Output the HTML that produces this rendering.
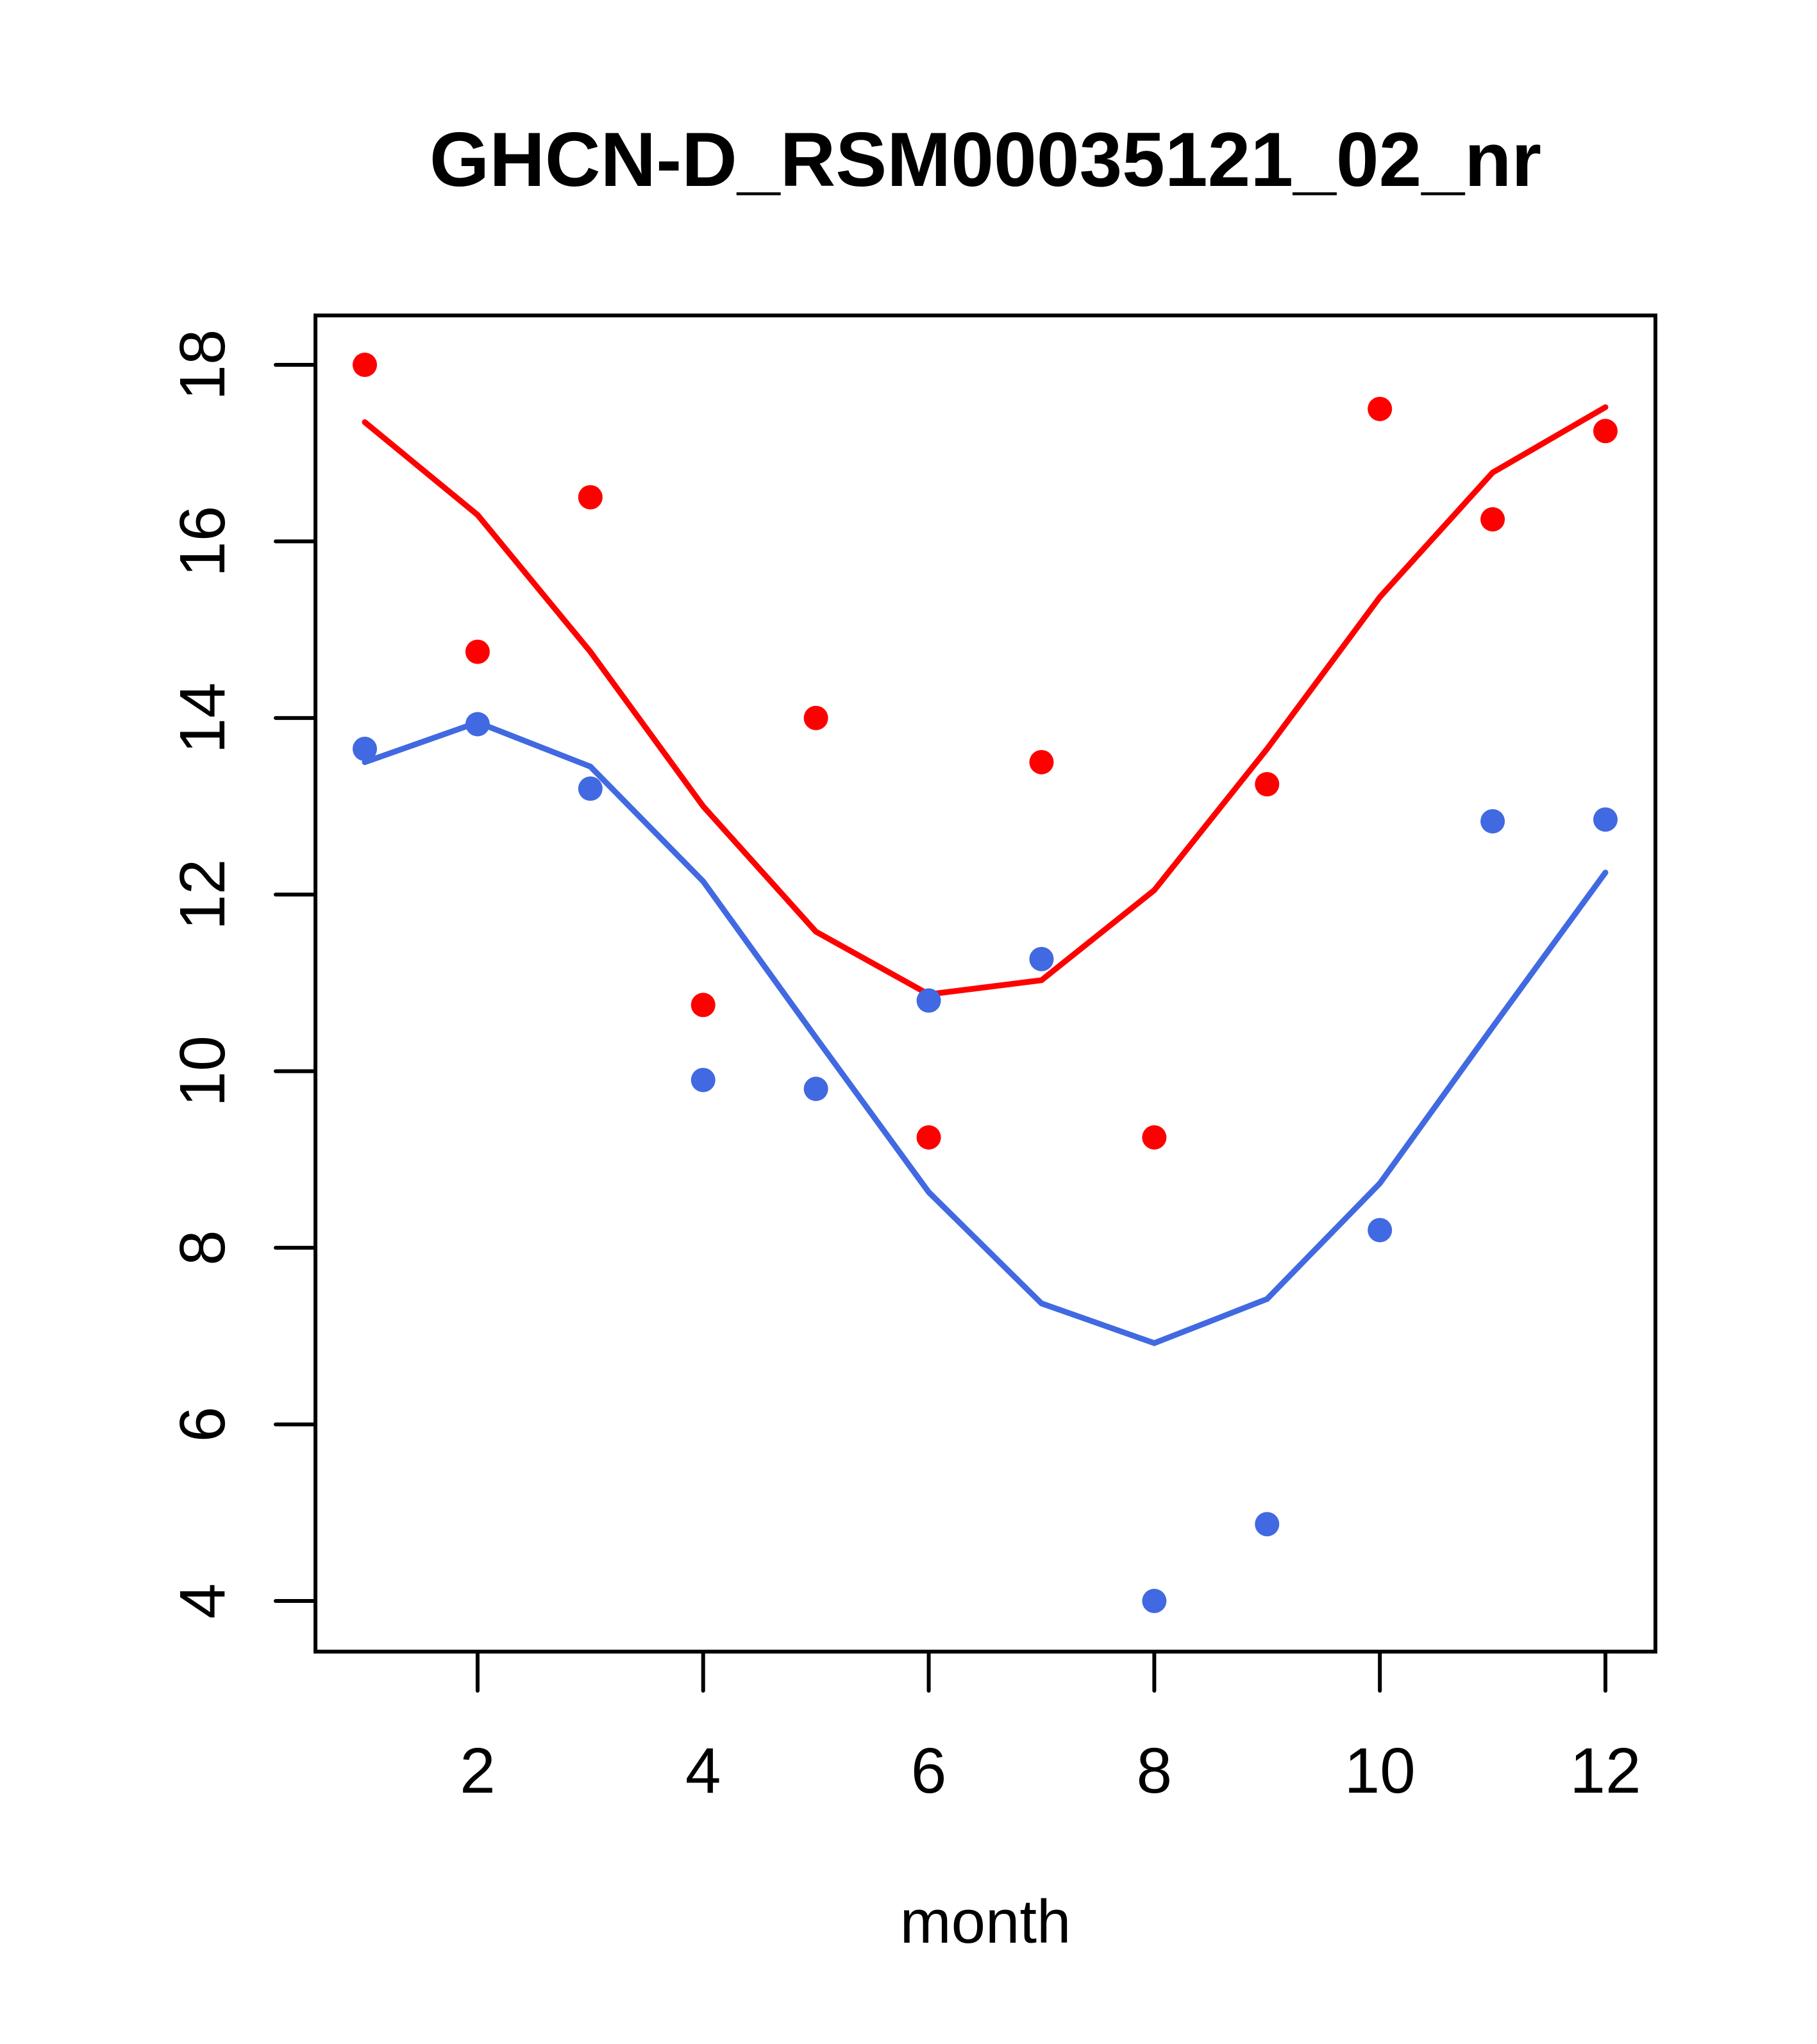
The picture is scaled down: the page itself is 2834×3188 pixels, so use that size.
<!DOCTYPE html>
<html><head><meta charset="utf-8"><style>html,body{margin:0;padding:0;background:#fff}svg{display:block}</style></head>
<body>
<svg id="chart" width="2834" height="3188" xmlns="http://www.w3.org/2000/svg" font-family="Liberation Sans, sans-serif">
<rect width="2834" height="3188" fill="#fff"/>
<text x="1537" y="290" font-size="120" font-weight="bold" text-anchor="middle">GHCN-D_RSM00035121_02_nr</text>
<rect x="492" y="492" width="2090" height="2084" fill="none" stroke="#000" stroke-width="6"/>
<g id="xaxis"></g>
<g id="yaxis"></g>
<text x="1537" y="3030" font-size="96" text-anchor="middle">month</text>
<g id="series"></g>
</svg>
<script>
const months=[1,2,3,4,5,6,7,8,9,10,11,12];
const redPoints=[18,14.75,16.5,10.75,14,9.25,13.5,9.25,13.25,17.5,16.25,17.25];
const redLine=[17.35,16.3,14.75,13.0,11.58,10.87,11.03,12.05,13.65,15.37,16.78,17.52];
const bluePoints=[13.65,13.93,13.2,9.9,9.8,10.8,11.27,4.0,4.87,8.2,12.83,12.85];
const blueLine=[13.5,13.95,13.45,12.15,10.38,8.63,7.37,6.92,7.42,8.73,10.5,12.25];
const xTicks=[2,4,6,8,10,12];
const yTicks=[4,6,8,10,12,14,16,18];
const NS="http://www.w3.org/2000/svg";
function X(m){return 569+(m-1)*(2504-569)/11;}
function Y(v){return 2497-(v-4)*(2497-569)/14;}
function mk(tag,attrs,parent){const e=document.createElementNS(NS,tag);for(const k in attrs)e.setAttribute(k,attrs[k]);parent.appendChild(e);return e;}
const xa=document.getElementById('xaxis'),ya=document.getElementById('yaxis'),sg=document.getElementById('series');
xTicks.forEach(t=>{
  const l=mk('line',{x1:X(t),x2:X(t),y1:2576,y2:2637,stroke:'#000','stroke-width':6,'stroke-linecap':'round'},xa);
  
  
  const tx=mk('text',{x:X(t),y:2796,'font-size':100,'text-anchor':'middle'},xa);
  tx.textContent=t;
  
  
});
yTicks.forEach(t=>{
  const l=mk('line',{x1:430,x2:492,y1:Y(t),y2:Y(t),stroke:'#000','stroke-width':6,'stroke-linecap':'round'},ya);
  
  
  const tx=mk('text',{x:0,y:0,'font-size':100,'text-anchor':'middle',transform:`translate(350,${Y(t)}) rotate(-90)`},ya);
  tx.textContent=t;
  
  
});
function line(vals,color,name){
  const p=mk('polyline',{points:vals.map((v,i)=>X(months[i])+','+Y(v)).join(' '),fill:'none',stroke:color,'stroke-width':9,'stroke-linecap':'round'},sg);
  
  
}
function pts(vals,color,name){
  vals.forEach((v,i)=>{
    const c=mk('circle',{cx:X(months[i]),cy:Y(v),r:19,fill:color},sg);
    
    
  });
}
line(redLine,'#ff0000','red-smooth-line');
line(blueLine,'#4169e1','blue-smooth-line');
pts(redPoints,'#ff0000','red-point');
pts(bluePoints,'#4169e1','blue-point');
</script>
</body></html>
